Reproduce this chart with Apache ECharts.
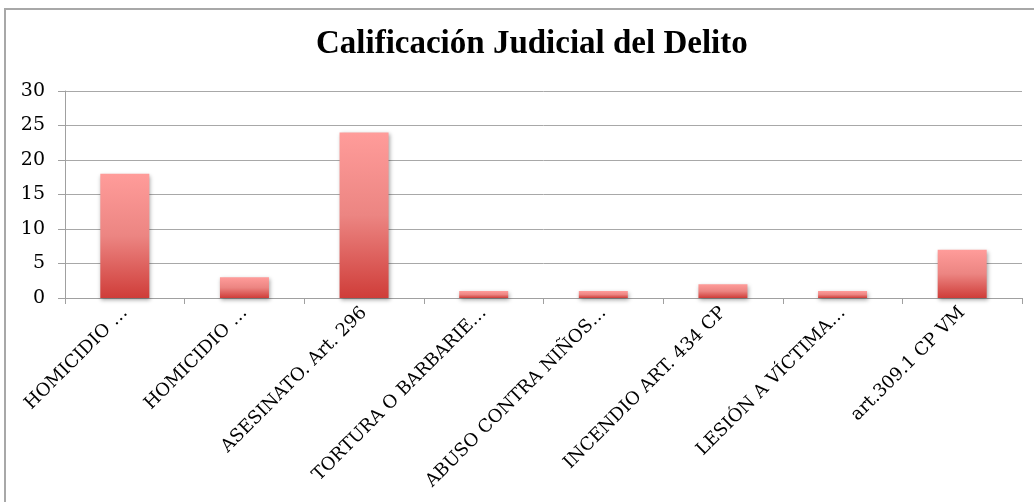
<!DOCTYPE html>
<html><head><meta charset="utf-8">
<script src="https://cdn.jsdelivr.net/npm/echarts@6/dist/echarts.min.js"></script>
<style>html,body{margin:0;padding:0;background:#fff}#c{width:1034px;height:502px}</style>
</head><body><div id="c"></div>
<script>
const categories = ["HOMICIDIO …", "HOMICIDIO …", "ASESINATO. Art. 296", "TORTURA O BARBARIE…", "ABUSO CONTRA NIÑOS…", "INCENDIO ART. 434 CP", "LESIÓN A VÍCTIMA…", "art.309.1 CP VM"];
const values = [18, 3, 24, 1, 1, 2, 1, 7];
const titleText = "Calificación Judicial del Delito";

const chart = echarts.init(document.getElementById('c'), null, {renderer: 'canvas'});
const serif = "'Liberation Serif', serif";
const labelFont = "'DejaVu Serif', serif";
chart.setOption({
  animation: false,
  backgroundColor: '#fff',
  title: {
    text: titleText, left: 311, top: 23,
    textStyle: {fontFamily: serif, fontWeight: 'bold', fontSize: 33, color: '#000'}
  },
  graphic: [
    {type: 'line', shape: {x1: 5, y1: 9, x2: 1034, y2: 9}, style: {stroke: '#a8a8a8', lineWidth: 2}, silent: true},
    {type: 'line', shape: {x1: 5, y1: 8, x2: 5, y2: 502}, style: {stroke: '#a8a8a8', lineWidth: 2}, silent: true}
  ],
  grid: {left: 65, right: 12, top: 91, bottom: 204, containLabel: false},
  xAxis: {
    type: 'category', data: categories,
    axisLine: {show: true, lineStyle: {color: '#a0a0a0', width: 1}},
    axisTick: {show: true, length: 6, lineStyle: {color: '#a0a0a0'}},
    axisLabel: {rotate: 45, interval: 0, margin: 12, fontFamily: labelFont, fontSize: 18, color: '#000'}
  },
  yAxis: {
    type: 'value', min: 0, max: 30, interval: 5,
    axisLine: {show: true, lineStyle: {color: '#a0a0a0', width: 1}},
    axisTick: {show: true, length: 7, lineStyle: {color: '#a0a0a0'}},
    splitLine: {lineStyle: {color: '#a8a8a8', width: 1}},
    axisLabel: {margin: 20, fontFamily: labelFont, fontSize: 19, color: '#000'}
  },
  series: [{
    type: 'bar', data: values, barWidth: 49,
    itemStyle: {
      color: new echarts.graphic.LinearGradient(0, 0, 0, 1, [
        {offset: 0, color: '#ff9c9a'},
        {offset: 0.5, color: '#ec8582'},
        {offset: 1, color: '#cf3d39'}
      ]),
      shadowColor: 'rgba(0,0,0,0.35)', shadowBlur: 4, shadowOffsetX: 1, shadowOffsetY: 2
    }
  }]
});
</script></body></html>
